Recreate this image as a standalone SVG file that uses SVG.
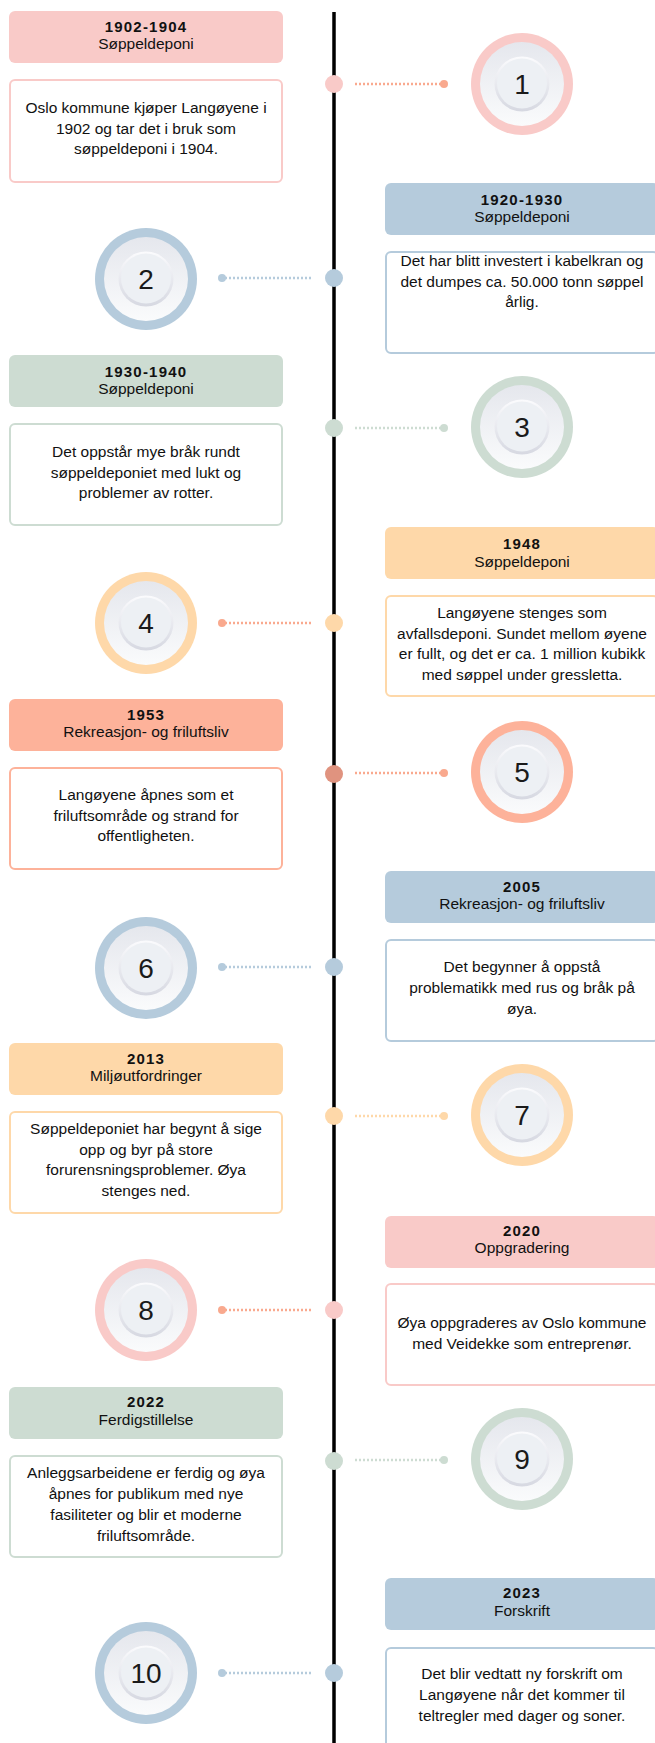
<svg xmlns="http://www.w3.org/2000/svg" xmlns:xlink="http://www.w3.org/1999/xlink" width="655" height="1743" viewBox="0 0 655 1743">
<style>
text{font-family:"Liberation Sans",Arial,sans-serif;fill:#111;text-anchor:middle}
.yr{font-size:15px;font-weight:bold;letter-spacing:1.2px}
.cat{font-size:15.5px}
.body{font-size:15.5px}
.num{font-size:28px;fill:#1a1a1a}
.hdr{stroke:none}
.box{fill:#fff;stroke-width:2}
.conn{fill:none;stroke-width:2.5;stroke-dasharray:2 2}
.pink .hdr,.pink .ring{fill:#f9cac8}.pink .box{stroke:#f9cac8}
.blue .hdr,.blue .ring{fill:#b5cbdc}.blue .box{stroke:#b5cbdc}
.green .hdr,.green .ring{fill:#cddcd2}.green .box{stroke:#cddcd2}
.orange .hdr,.orange .ring{fill:#fed8a9}.orange .box{stroke:#fed8a9}
.salmon .hdr,.salmon .ring{fill:#fdb29a}.salmon .box{stroke:#fdb29a}
</style>
<defs>
<linearGradient id="pg" x1="0" y1="0" x2="0" y2="1"><stop offset="0" stop-color="#e5e7ed"/><stop offset="1" stop-color="#fafbfc"/></linearGradient>
<linearGradient id="ig" x1="0" y1="0" x2="0" y2="1"><stop offset="0" stop-color="#fbfbfd"/><stop offset="1" stop-color="#d6d8e1"/></linearGradient>
<g id="plate">
<circle r="42" fill="url(#pg)"/>
<circle r="27.5" fill="url(#ig)"/>
<circle r="25" cy="-0.5" fill="#edf0f4"/>
</g>
</defs>
<rect width="655" height="1743" fill="#fff"/>
<g id="timeline"><line x1="334" y1="12" x2="334" y2="1743" stroke="#000" stroke-width="3.5"/></g>
<g id="connectors">
<g stroke="#f9a98e" fill="#f9a98e"><line class="conn" x1="355" y1="84" x2="442" y2="84"/><circle cx="444" cy="84" r="4" stroke="none"/></g>
<g stroke="#b5cbdc" fill="#b5cbdc"><line class="conn" x1="311" y1="278" x2="224" y2="278"/><circle cx="222" cy="278" r="4" stroke="none"/></g>
<g stroke="#cddcd2" fill="#cddcd2"><line class="conn" x1="355" y1="428" x2="442" y2="428"/><circle cx="444" cy="428" r="4" stroke="none"/></g>
<g stroke="#f9a98e" fill="#f9a98e"><line class="conn" x1="311" y1="623" x2="224" y2="623"/><circle cx="222" cy="623" r="4" stroke="none"/></g>
<g stroke="#f9a98e" fill="#f9a98e"><line class="conn" x1="355" y1="773" x2="442" y2="773"/><circle cx="444" cy="773" r="4" stroke="none"/></g>
<g stroke="#b5cbdc" fill="#b5cbdc"><line class="conn" x1="311" y1="967" x2="224" y2="967"/><circle cx="222" cy="967" r="4" stroke="none"/></g>
<g stroke="#fed8a9" fill="#fed8a9"><line class="conn" x1="355" y1="1116" x2="442" y2="1116"/><circle cx="444" cy="1116" r="4" stroke="none"/></g>
<g stroke="#f9a98e" fill="#f9a98e"><line class="conn" x1="311" y1="1310" x2="224" y2="1310"/><circle cx="222" cy="1310" r="4" stroke="none"/></g>
<g stroke="#cddcd2" fill="#cddcd2"><line class="conn" x1="355" y1="1460" x2="442" y2="1460"/><circle cx="444" cy="1460" r="4" stroke="none"/></g>
<g stroke="#b5cbdc" fill="#b5cbdc"><line class="conn" x1="311" y1="1673" x2="224" y2="1673"/><circle cx="222" cy="1673" r="4" stroke="none"/></g>
</g>

<g id="item1" class="pink">
<rect class="hdr" x="9" y="11" width="274" height="52" rx="6"/>
<text class="yr" x="146" y="32">1902-1904</text>
<text class="cat" x="146" y="49">Søppeldeponi</text>
<rect class="box" x="10" y="80" width="272" height="102" rx="5"/>
<text class="body" x="146" y="113">Oslo kommune kjøper Langøyene i</text>
<text class="body" x="146" y="133.5">1902 og tar det i bruk som</text>
<text class="body" x="146" y="154">søppeldeponi i 1904.</text>
<circle cx="334" cy="84" r="9" fill="#f9cac8"/>
<circle class="ring" cx="522" cy="84" r="51"/><use xlink:href="#plate" x="522" y="84"/>
<text class="num" x="522" y="94">1</text>
</g>

<g id="item2" class="blue">
<rect class="hdr" x="385" y="183" width="274" height="52" rx="6"/>
<text class="yr" x="522" y="205">1920-1930</text>
<text class="cat" x="522" y="222">Søppeldeponi</text>
<rect class="box" x="386" y="252" width="272" height="101" rx="5"/>
<text class="body" x="522" y="266">Det har blitt investert i kabelkran og</text>
<text class="body" x="522" y="286.5">det dumpes ca. 50.000 tonn søppel</text>
<text class="body" x="522" y="307">årlig.</text>
<circle cx="334" cy="278" r="9" fill="#b5cbdc"/>
<circle class="ring" cx="146" cy="279" r="51"/><use xlink:href="#plate" x="146" y="279"/>
<text class="num" x="146" y="289">2</text>
</g>

<g id="item3" class="green">
<rect class="hdr" x="9" y="355" width="274" height="52" rx="6"/>
<text class="yr" x="146" y="377">1930-1940</text>
<text class="cat" x="146" y="394">Søppeldeponi</text>
<rect class="box" x="10" y="424" width="272" height="101" rx="5"/>
<text class="body" x="146" y="457">Det oppstår mye bråk rundt</text>
<text class="body" x="146" y="477.5">søppeldeponiet med lukt og</text>
<text class="body" x="146" y="498">problemer av rotter.</text>
<circle cx="334" cy="428" r="9" fill="#cddcd2"/>
<circle class="ring" cx="522" cy="427" r="51"/><use xlink:href="#plate" x="522" y="427"/>
<text class="num" x="522" y="437">3</text>
</g>

<g id="item4" class="orange">
<rect class="hdr" x="385" y="527" width="274" height="52" rx="6"/>
<text class="yr" x="522" y="549">1948</text>
<text class="cat" x="522" y="567">Søppeldeponi</text>
<rect class="box" x="386" y="596" width="272" height="100" rx="5"/>
<text class="body" x="522" y="618">Langøyene stenges som</text>
<text class="body" x="522" y="638.5">avfallsdeponi. Sundet mellom øyene</text>
<text class="body" x="522" y="659">er fullt, og det er ca. 1 million kubikk</text>
<text class="body" x="522" y="679.5">med søppel under gressletta.</text>
<circle cx="334" cy="623" r="9" fill="#fed8a9"/>
<circle class="ring" cx="146" cy="623" r="51"/><use xlink:href="#plate" x="146" y="623"/>
<text class="num" x="146" y="633">4</text>
</g>

<g id="item5" class="salmon">
<rect class="hdr" x="9" y="699" width="274" height="52" rx="6"/>
<text class="yr" x="146" y="720">1953</text>
<text class="cat" x="146" y="737">Rekreasjon- og friluftsliv</text>
<rect class="box" x="10" y="768" width="272" height="101" rx="5"/>
<text class="body" x="146" y="800">Langøyene åpnes som et</text>
<text class="body" x="146" y="820.5">friluftsområde og strand for</text>
<text class="body" x="146" y="841">offentligheten.</text>
<circle cx="334" cy="774" r="9" fill="#e0937f"/>
<circle class="ring" cx="522" cy="772" r="51"/><use xlink:href="#plate" x="522" y="772"/>
<text class="num" x="522" y="782">5</text>
</g>

<g id="item6" class="blue">
<rect class="hdr" x="385" y="871" width="274" height="52" rx="6"/>
<text class="yr" x="522" y="892">2005</text>
<text class="cat" x="522" y="909">Rekreasjon- og friluftsliv</text>
<rect class="box" x="386" y="940" width="272" height="101" rx="5"/>
<text class="body" x="522" y="972">Det begynner å oppstå</text>
<text class="body" x="522" y="993">problematikk med rus og bråk på</text>
<text class="body" x="522" y="1014">øya.</text>
<circle cx="334" cy="967" r="9" fill="#b5cbdc"/>
<circle class="ring" cx="146" cy="968" r="51"/><use xlink:href="#plate" x="146" y="968"/>
<text class="num" x="146" y="978">6</text>
</g>

<g id="item7" class="orange">
<rect class="hdr" x="9" y="1043" width="274" height="52" rx="6"/>
<text class="yr" x="146" y="1064">2013</text>
<text class="cat" x="146" y="1081">Miljøutfordringer</text>
<rect class="box" x="10" y="1112" width="272" height="101" rx="5"/>
<text class="body" x="146" y="1134">Søppeldeponiet har begynt å sige</text>
<text class="body" x="146" y="1154.5">opp og byr på store</text>
<text class="body" x="146" y="1175">forurensningsproblemer. Øya</text>
<text class="body" x="146" y="1195.5">stenges ned.</text>
<circle cx="334" cy="1116" r="9" fill="#fed8a9"/>
<circle class="ring" cx="522" cy="1115" r="51"/><use xlink:href="#plate" x="522" y="1115"/>
<text class="num" x="522" y="1125">7</text>
</g>

<g id="item8" class="pink">
<rect class="hdr" x="385" y="1216" width="274" height="52" rx="6"/>
<text class="yr" x="522" y="1236">2020</text>
<text class="cat" x="522" y="1253">Oppgradering</text>
<rect class="box" x="386" y="1284" width="272" height="101" rx="5"/>
<text class="body" x="522" y="1328">Øya oppgraderes av Oslo kommune</text>
<text class="body" x="522" y="1349">med Veidekke som entreprenør.</text>
<circle cx="334" cy="1310" r="9" fill="#f9cac8"/>
<circle class="ring" cx="146" cy="1310" r="51"/><use xlink:href="#plate" x="146" y="1310"/>
<text class="num" x="146" y="1320">8</text>
</g>

<g id="item9" class="green">
<rect class="hdr" x="9" y="1387" width="274" height="52" rx="6"/>
<text class="yr" x="146" y="1407">2022</text>
<text class="cat" x="146" y="1425">Ferdigstillelse</text>
<rect class="box" x="10" y="1456" width="272" height="101" rx="5"/>
<text class="body" x="146" y="1478">Anleggsarbeidene er ferdig og øya</text>
<text class="body" x="146" y="1499">åpnes for publikum med nye</text>
<text class="body" x="146" y="1520">fasiliteter og blir et moderne</text>
<text class="body" x="146" y="1541">friluftsområde.</text>
<circle cx="334" cy="1461" r="9" fill="#cddcd2"/>
<circle class="ring" cx="522" cy="1459" r="51"/><use xlink:href="#plate" x="522" y="1459"/>
<text class="num" x="522" y="1469">9</text>
</g>

<g id="item10" class="blue">
<rect class="hdr" x="385" y="1578" width="274" height="52" rx="6"/>
<text class="yr" x="522" y="1598">2023</text>
<text class="cat" x="522" y="1616">Forskrift</text>
<rect class="box" x="386" y="1648" width="272" height="101" rx="5"/>
<text class="body" x="522" y="1679">Det blir vedtatt ny forskrift om</text>
<text class="body" x="522" y="1700">Langøyene når det kommer til</text>
<text class="body" x="522" y="1721">teltregler med dager og soner.</text>
<circle cx="334" cy="1673" r="9" fill="#b5cbdc"/>
<circle class="ring" cx="146" cy="1673" r="51"/><use xlink:href="#plate" x="146" y="1673"/>
<text class="num" x="146" y="1683">10</text>
</g>
</svg>
